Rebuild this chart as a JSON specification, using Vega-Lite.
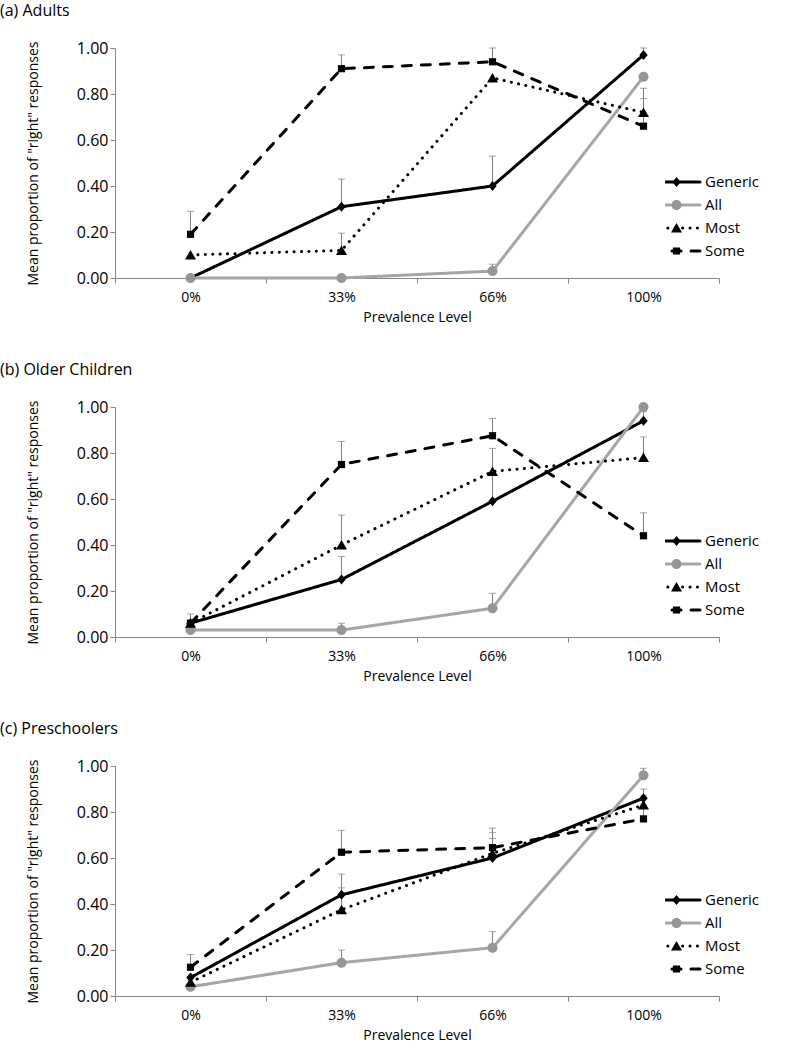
{
  "$schema": "https://vega.github.io/schema/vega-lite/v6.json",
  "background": "white",
  "padding": {"left": 0, "top": 3, "right": 0, "bottom": 0},
  "spacing": 38,
  "config": {
    "font": "Open Sans",
    "view": {"stroke": null},
    "axis": {"domainColor": "#868686", "tickColor": "#868686", "labelColor": "#000", "titleColor": "#000", "labelFont": "Open Sans", "titleFont": "Open Sans", "labelFontSize": 14, "titleFontSize": 14, "titleFontWeight": "normal", "grid": false, "tickSize": 5, "domainWidth": 1, "tickWidth": 1},
    "axisY": {"title": "Mean proportion of \"right\" responses", "values": [0, 0.2, 0.4, 0.6, 0.8, 1], "format": ".2f", "labelPadding": 2, "labelFontSize": 16, "titleX": -82, "titleY": 115, "titleBaseline": "middle", "titleAlign": "center"},
    "title": {"font": "Open Sans", "fontSize": 16, "fontWeight": "normal", "color": "#000", "anchor": "start", "frame": "group", "dx": -115, "offset": 21}
  },
  "datasets": {
    "adults": [
      {"level": "0%", "series": "Generic", "value": 0.0, "err": null},
      {"level": "33%", "series": "Generic", "value": 0.31, "err": 0.43},
      {"level": "66%", "series": "Generic", "value": 0.40, "err": 0.53},
      {"level": "100%", "series": "Generic", "value": 0.97, "err": 1.0},
      {"level": "0%", "series": "All", "value": 0.0, "err": null},
      {"level": "33%", "series": "All", "value": 0.0, "err": null},
      {"level": "66%", "series": "All", "value": 0.03, "err": 0.06},
      {"level": "100%", "series": "All", "value": 0.875, "err": null},
      {"level": "0%", "series": "Most", "value": 0.10, "err": null},
      {"level": "33%", "series": "Most", "value": 0.12, "err": 0.195},
      {"level": "66%", "series": "Most", "value": 0.87, "err": null},
      {"level": "100%", "series": "Most", "value": 0.72, "err": 0.825},
      {"level": "0%", "series": "Some", "value": 0.19, "err": 0.29},
      {"level": "33%", "series": "Some", "value": 0.91, "err": 0.97},
      {"level": "66%", "series": "Some", "value": 0.94, "err": 1.0},
      {"level": "100%", "series": "Some", "value": 0.66, "err": 0.78}
    ],
    "older": [
      {"level": "0%", "series": "Generic", "value": 0.06, "err": 0.10},
      {"level": "33%", "series": "Generic", "value": 0.25, "err": 0.35},
      {"level": "66%", "series": "Generic", "value": 0.59, "err": 0.71},
      {"level": "100%", "series": "Generic", "value": 0.94, "err": 0.98},
      {"level": "0%", "series": "All", "value": 0.03, "err": null},
      {"level": "33%", "series": "All", "value": 0.03, "err": 0.06},
      {"level": "66%", "series": "All", "value": 0.125, "err": 0.19},
      {"level": "100%", "series": "All", "value": 1.0, "err": null},
      {"level": "0%", "series": "Most", "value": 0.06, "err": null},
      {"level": "33%", "series": "Most", "value": 0.40, "err": 0.53},
      {"level": "66%", "series": "Most", "value": 0.72, "err": 0.82},
      {"level": "100%", "series": "Most", "value": 0.78, "err": 0.87},
      {"level": "0%", "series": "Some", "value": 0.06, "err": null},
      {"level": "33%", "series": "Some", "value": 0.75, "err": 0.85},
      {"level": "66%", "series": "Some", "value": 0.875, "err": 0.95},
      {"level": "100%", "series": "Some", "value": 0.44, "err": 0.54}
    ],
    "pre": [
      {"level": "0%", "series": "Generic", "value": 0.08, "err": null},
      {"level": "33%", "series": "Generic", "value": 0.44, "err": 0.53},
      {"level": "66%", "series": "Generic", "value": 0.60, "err": 0.685},
      {"level": "100%", "series": "Generic", "value": 0.86, "err": 0.90},
      {"level": "0%", "series": "All", "value": 0.04, "err": null},
      {"level": "33%", "series": "All", "value": 0.145, "err": 0.20},
      {"level": "66%", "series": "All", "value": 0.21, "err": 0.28},
      {"level": "100%", "series": "All", "value": 0.96, "err": 0.99},
      {"level": "0%", "series": "Most", "value": 0.06, "err": null},
      {"level": "33%", "series": "Most", "value": 0.375, "err": 0.47},
      {"level": "66%", "series": "Most", "value": 0.62, "err": 0.71},
      {"level": "100%", "series": "Most", "value": 0.83, "err": 0.87},
      {"level": "0%", "series": "Some", "value": 0.125, "err": 0.18},
      {"level": "33%", "series": "Some", "value": 0.625, "err": 0.72},
      {"level": "66%", "series": "Some", "value": 0.645, "err": 0.73},
      {"level": "100%", "series": "Some", "value": 0.77, "err": 0.83}
    ]
  },
  "resolve": {
    "scale": {"x": "independent", "y": "independent", "color": "independent", "strokeDash": "independent", "shape": "independent", "fill": "independent"},
    "legend": {"color": "independent", "strokeDash": "independent", "shape": "independent", "fill": "independent"}
  },
  "vconcat": [
    {
      "title": {"text": "(a) Adults"},
      "width": 604, "height": 230,
      "data": {"name": "adults"},
      "encoding": {
        "x": {"field": "level", "type": "ordinal", "sort": ["0%", "33%", "66%", "100%"], "scale": {"type": "band", "paddingInner": 0, "paddingOuter": 0},
          "axis": {"title": "Prevalence Level", "labelAngle": 0, "tickBand": "extent", "labelPadding": 7, "titleY": 39, "titleBaseline": "middle"}}
      },
      "layer": [
        {"transform": [{"filter": {"field": "err", "valid": true}}], "mark": {"type": "rule", "color": "#7f7f7f", "strokeWidth": 1},
          "encoding": {"y": {"field": "value", "type": "quantitative", "scale": {"domain": [0, 1]}, "title": "Mean proportion of \"right\" responses"}, "y2": {"field": "err"}}},
        {"transform": [{"filter": {"field": "err", "valid": true}}], "mark": {"type": "tick", "color": "#7f7f7f", "thickness": 1, "size": 7},
          "encoding": {"y": {"field": "err", "type": "quantitative", "scale": {"domain": [0, 1]}, "title": "Mean proportion of \"right\" responses"}}},
        {"mark": {"type": "line", "strokeWidth": 3, "strokeCap": "round"},
          "encoding": {
            "y": {"field": "value", "type": "quantitative", "scale": {"domain": [0, 1]}, "title": "Mean proportion of \"right\" responses"},
            "color": {"field": "series", "type": "nominal", "scale": {"domain": ["Generic", "All", "Most", "Some"], "range": ["#000000", "#a6a6a6", "#000000", "#000000"]},
              "legend": {"title": null, "orient": "none", "legendX": 550, "legendY": 122.65, "padding": 0, "labelFont": "Open Sans", "labelFontSize": 15, "labelColor": "#000", "symbolSize": 400, "symbolStrokeWidth": 3, "labelOffset": 17, "rowPadding": 0, "clipHeight": 22.7, "symbolType": "M-2.35,0H2.35", "encode": {"symbols": {"update": {"strokeCap": {"value": "round"}}}}}},
            "strokeDash": {"field": "series", "type": "nominal", "scale": {"domain": ["Generic", "All", "Most", "Some"], "range": [[1, 0], [1, 0], [0.1, 7.3], [9, 10]]},
              "legend": {"title": null, "orient": "none", "legendX": 550, "legendY": 122.65, "padding": 0, "labelFont": "Open Sans", "labelFontSize": 15, "labelColor": "#000", "symbolSize": 400, "symbolStrokeWidth": 3, "labelOffset": 17, "rowPadding": 0, "clipHeight": 22.7, "symbolType": "M-2.35,0H2.35", "encode": {"symbols": {"update": {"strokeCap": {"value": "round"}}}}}}
          }},
        {"mark": {"type": "point", "filled": true, "size": 400, "opacity": 1, "strokeWidth": 0},
          "encoding": {
            "y": {"field": "value", "type": "quantitative", "scale": {"domain": [0, 1]}, "title": "Mean proportion of \"right\" responses"},
            "shape": {"field": "series", "type": "nominal", "sort": null, "scale": {"range": ["M0,-0.5L0.42,0L0,0.5L-0.42,0Z", "M0.5,0A0.5,0.5,0,1,1,-0.5,0A0.5,0.5,0,1,1,0.5,0Z", "M0,-0.5L0.55,0.45L-0.55,0.45Z", "M-0.36,-0.36H0.36V0.36H-0.36Z"]},
              "legend": {"title": null, "orient": "none", "legendX": 550, "legendY": 122.65, "padding": 0, "labelFont": "Open Sans", "labelFontSize": 15, "labelExpr": "''", "symbolSize": 400, "symbolStrokeWidth": 3, "symbolStrokeColor": "transparent", "symbolOpacity": 1, "labelOffset": 17, "rowPadding": 0, "clipHeight": 22.7}},
            "fill": {"field": "series", "type": "nominal", "sort": null, "scale": {"range": ["#000000", "#969696", "#000000", "#000000"]},
              "legend": {"title": null, "orient": "none", "legendX": 550, "legendY": 122.65, "padding": 0, "labelFont": "Open Sans", "labelFontSize": 15, "labelExpr": "''", "symbolSize": 400, "symbolStrokeWidth": 3, "symbolStrokeColor": "transparent", "symbolOpacity": 1, "labelOffset": 17, "rowPadding": 0, "clipHeight": 22.7}}
          }}
      ]
    },
    {
      "title": {"text": "(b) Older Children"},
      "width": 604, "height": 230,
      "data": {"name": "older"},
      "encoding": {
        "x": {"field": "level", "type": "ordinal", "sort": ["0%", "33%", "66%", "100%"], "scale": {"type": "band", "paddingInner": 0, "paddingOuter": 0},
          "axis": {"title": "Prevalence Level", "labelAngle": 0, "tickBand": "extent", "labelPadding": 7, "titleY": 39, "titleBaseline": "middle"}}
      },
      "layer": [
        {"transform": [{"filter": {"field": "err", "valid": true}}], "mark": {"type": "rule", "color": "#7f7f7f", "strokeWidth": 1},
          "encoding": {"y": {"field": "value", "type": "quantitative", "scale": {"domain": [0, 1]}, "title": "Mean proportion of \"right\" responses"}, "y2": {"field": "err"}}},
        {"transform": [{"filter": {"field": "err", "valid": true}}], "mark": {"type": "tick", "color": "#7f7f7f", "thickness": 1, "size": 7},
          "encoding": {"y": {"field": "err", "type": "quantitative", "scale": {"domain": [0, 1]}, "title": "Mean proportion of \"right\" responses"}}},
        {"mark": {"type": "line", "strokeWidth": 3, "strokeCap": "round"},
          "encoding": {
            "y": {"field": "value", "type": "quantitative", "scale": {"domain": [0, 1]}, "title": "Mean proportion of \"right\" responses"},
            "color": {"field": "series", "type": "nominal", "scale": {"domain": ["Generic", "All", "Most", "Some"], "range": ["#000000", "#a6a6a6", "#000000", "#000000"]},
              "legend": {"title": null, "orient": "none", "legendX": 550, "legendY": 122.65, "padding": 0, "labelFont": "Open Sans", "labelFontSize": 15, "labelColor": "#000", "symbolSize": 400, "symbolStrokeWidth": 3, "labelOffset": 17, "rowPadding": 0, "clipHeight": 22.7, "symbolType": "M-2.35,0H2.35", "encode": {"symbols": {"update": {"strokeCap": {"value": "round"}}}}}},
            "strokeDash": {"field": "series", "type": "nominal", "scale": {"domain": ["Generic", "All", "Most", "Some"], "range": [[1, 0], [1, 0], [0.1, 7.3], [9, 10]]},
              "legend": {"title": null, "orient": "none", "legendX": 550, "legendY": 122.65, "padding": 0, "labelFont": "Open Sans", "labelFontSize": 15, "labelColor": "#000", "symbolSize": 400, "symbolStrokeWidth": 3, "labelOffset": 17, "rowPadding": 0, "clipHeight": 22.7, "symbolType": "M-2.35,0H2.35", "encode": {"symbols": {"update": {"strokeCap": {"value": "round"}}}}}}
          }},
        {"mark": {"type": "point", "filled": true, "size": 400, "opacity": 1, "strokeWidth": 0},
          "encoding": {
            "y": {"field": "value", "type": "quantitative", "scale": {"domain": [0, 1]}, "title": "Mean proportion of \"right\" responses"},
            "shape": {"field": "series", "type": "nominal", "sort": null, "scale": {"range": ["M0,-0.5L0.42,0L0,0.5L-0.42,0Z", "M0.5,0A0.5,0.5,0,1,1,-0.5,0A0.5,0.5,0,1,1,0.5,0Z", "M0,-0.5L0.55,0.45L-0.55,0.45Z", "M-0.36,-0.36H0.36V0.36H-0.36Z"]},
              "legend": {"title": null, "orient": "none", "legendX": 550, "legendY": 122.65, "padding": 0, "labelFont": "Open Sans", "labelFontSize": 15, "labelExpr": "''", "symbolSize": 400, "symbolStrokeWidth": 3, "symbolStrokeColor": "transparent", "symbolOpacity": 1, "labelOffset": 17, "rowPadding": 0, "clipHeight": 22.7}},
            "fill": {"field": "series", "type": "nominal", "sort": null, "scale": {"range": ["#000000", "#969696", "#000000", "#000000"]},
              "legend": {"title": null, "orient": "none", "legendX": 550, "legendY": 122.65, "padding": 0, "labelFont": "Open Sans", "labelFontSize": 15, "labelExpr": "''", "symbolSize": 400, "symbolStrokeWidth": 3, "symbolStrokeColor": "transparent", "symbolOpacity": 1, "labelOffset": 17, "rowPadding": 0, "clipHeight": 22.7}}
          }}
      ]
    },
    {
      "title": {"text": "(c) Preschoolers"},
      "width": 604, "height": 230,
      "data": {"name": "pre"},
      "encoding": {
        "x": {"field": "level", "type": "ordinal", "sort": ["0%", "33%", "66%", "100%"], "scale": {"type": "band", "paddingInner": 0, "paddingOuter": 0},
          "axis": {"title": "Prevalence Level", "labelAngle": 0, "tickBand": "extent", "labelPadding": 7, "titleY": 39, "titleBaseline": "middle"}}
      },
      "layer": [
        {"transform": [{"filter": {"field": "err", "valid": true}}], "mark": {"type": "rule", "color": "#7f7f7f", "strokeWidth": 1},
          "encoding": {"y": {"field": "value", "type": "quantitative", "scale": {"domain": [0, 1]}, "title": "Mean proportion of \"right\" responses"}, "y2": {"field": "err"}}},
        {"transform": [{"filter": {"field": "err", "valid": true}}], "mark": {"type": "tick", "color": "#7f7f7f", "thickness": 1, "size": 7},
          "encoding": {"y": {"field": "err", "type": "quantitative", "scale": {"domain": [0, 1]}, "title": "Mean proportion of \"right\" responses"}}},
        {"mark": {"type": "line", "strokeWidth": 3, "strokeCap": "round"},
          "encoding": {
            "y": {"field": "value", "type": "quantitative", "scale": {"domain": [0, 1]}, "title": "Mean proportion of \"right\" responses"},
            "color": {"field": "series", "type": "nominal", "scale": {"domain": ["Generic", "All", "Most", "Some"], "range": ["#000000", "#a6a6a6", "#000000", "#000000"]},
              "legend": {"title": null, "orient": "none", "legendX": 550, "legendY": 122.65, "padding": 0, "labelFont": "Open Sans", "labelFontSize": 15, "labelColor": "#000", "symbolSize": 400, "symbolStrokeWidth": 3, "labelOffset": 17, "rowPadding": 0, "clipHeight": 22.7, "symbolType": "M-2.35,0H2.35", "encode": {"symbols": {"update": {"strokeCap": {"value": "round"}}}}}},
            "strokeDash": {"field": "series", "type": "nominal", "scale": {"domain": ["Generic", "All", "Most", "Some"], "range": [[1, 0], [1, 0], [0.1, 7.3], [9, 10]]},
              "legend": {"title": null, "orient": "none", "legendX": 550, "legendY": 122.65, "padding": 0, "labelFont": "Open Sans", "labelFontSize": 15, "labelColor": "#000", "symbolSize": 400, "symbolStrokeWidth": 3, "labelOffset": 17, "rowPadding": 0, "clipHeight": 22.7, "symbolType": "M-2.35,0H2.35", "encode": {"symbols": {"update": {"strokeCap": {"value": "round"}}}}}}
          }},
        {"mark": {"type": "point", "filled": true, "size": 400, "opacity": 1, "strokeWidth": 0},
          "encoding": {
            "y": {"field": "value", "type": "quantitative", "scale": {"domain": [0, 1]}, "title": "Mean proportion of \"right\" responses"},
            "shape": {"field": "series", "type": "nominal", "sort": null, "scale": {"range": ["M0,-0.5L0.42,0L0,0.5L-0.42,0Z", "M0.5,0A0.5,0.5,0,1,1,-0.5,0A0.5,0.5,0,1,1,0.5,0Z", "M0,-0.5L0.55,0.45L-0.55,0.45Z", "M-0.36,-0.36H0.36V0.36H-0.36Z"]},
              "legend": {"title": null, "orient": "none", "legendX": 550, "legendY": 122.65, "padding": 0, "labelFont": "Open Sans", "labelFontSize": 15, "labelExpr": "''", "symbolSize": 400, "symbolStrokeWidth": 3, "symbolStrokeColor": "transparent", "symbolOpacity": 1, "labelOffset": 17, "rowPadding": 0, "clipHeight": 22.7}},
            "fill": {"field": "series", "type": "nominal", "sort": null, "scale": {"range": ["#000000", "#969696", "#000000", "#000000"]},
              "legend": {"title": null, "orient": "none", "legendX": 550, "legendY": 122.65, "padding": 0, "labelFont": "Open Sans", "labelFontSize": 15, "labelExpr": "''", "symbolSize": 400, "symbolStrokeWidth": 3, "symbolStrokeColor": "transparent", "symbolOpacity": 1, "labelOffset": 17, "rowPadding": 0, "clipHeight": 22.7}}
          }}
      ]
    }
  ]
}
